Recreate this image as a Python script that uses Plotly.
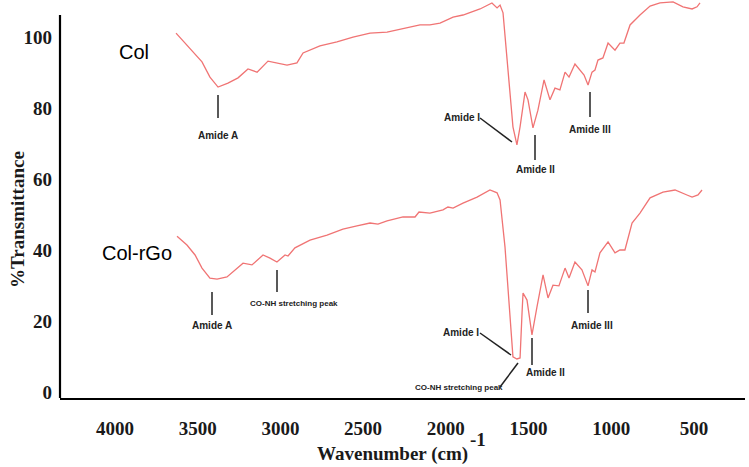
import plotly.graph_objects as go

# ---- data ----
col_wavenumber = [3631, 3547, 3474, 3426, 3377, 3317, 3256, 3196, 3141, 3075, 3021, 2960, 2900, 2863,
                  2761, 2658, 2561, 2458, 2355, 2259, 2156, 2096, 2035, 1956, 1896, 1793, 1721, 1690,
                  1672, 1654, 1624, 1594, 1570, 1551, 1521, 1503, 1473, 1443, 1406, 1370, 1340, 1310,
                  1279, 1255, 1219, 1189, 1164, 1140, 1116, 1098, 1080, 1050, 1019, 977, 947, 923,
                  886, 826, 765, 705, 626, 566, 511, 481, 463]
col_transmittance = [101.1, 96.9, 93.0, 88.7, 85.9, 87.0, 88.5, 91.0, 90.1, 93.2, 92.7, 92.1, 92.7, 95.5,
                     97.5, 98.6, 100.0, 101.1, 101.4, 102.3, 103.4, 103.4, 103.9, 105.6, 106.2, 107.9, 109.6, 108.2,
                     109.0, 106.8, 91.6, 74.7, 69.6, 74.7, 84.5, 82.3, 74.4, 79.4, 87.9, 82.3, 85.6, 85.1,
                     90.1, 88.7, 92.4, 90.7, 89.3, 86.5, 90.1, 90.7, 93.5, 94.1, 98.3, 96.3, 98.3, 98.3,
                     103.4, 106.2, 108.7, 109.6, 109.9, 108.5, 107.9, 108.5, 109.6]

rgo_wavenumber = [3625, 3565, 3516, 3474, 3426, 3383, 3323, 3274, 3226, 3172, 3105, 3063, 3021, 2972,
                  2954, 2912, 2821, 2718, 2622, 2537, 2458, 2410, 2355, 2259, 2186, 2162, 2096, 2017,
                  1987, 1956, 1896, 1811, 1733, 1690, 1672, 1642, 1612, 1594, 1570, 1551, 1539, 1533,
                  1509, 1479, 1449, 1412, 1382, 1352, 1316, 1279, 1255, 1219, 1177, 1140, 1116, 1098,
                  1068, 1019, 977, 947, 917, 874, 826, 765, 687, 614, 542, 511, 475, 451]
rgo_transmittance = [43.9, 41.4, 38.6, 34.9, 32.1, 31.8, 32.4, 34.4, 36.3, 35.8, 38.6, 37.7, 36.6, 38.6,
                     38.3, 40.6, 42.8, 44.2, 45.9, 46.8, 47.6, 47.3, 48.2, 49.3, 49.3, 50.7, 50.4, 51.3,
                     52.1, 51.8, 53.2, 54.9, 56.9, 56.1, 54.1, 40.8, 22.3, 9.9, 9.3, 9.6, 22.3, 27.9,
                     25.9, 16.1, 23.9, 33.0, 26.5, 30.1, 29.9, 34.9, 32.1, 36.6, 34.4, 29.9, 34.4, 33.8,
                     39.2, 42.3, 39.2, 40.0, 40.0, 47.6, 50.4, 54.7, 56.3, 56.9, 55.5, 54.9, 55.5, 56.9]

x_ticks = [4000, 3500, 3000, 2500, 2000, 1500, 1000, 500]
y_ticks = [0, 20, 40, 60, 80, 100]

# ---- layout helpers (pixel -> paper) ----
L, R, T, B = 60, 4, 0, 69
W, H = 749, 467
PW, PH = W - L - R, H - T - B


def px(x):
    return (x - L) / PW


def py(y):
    return (H - B - y) / PH


LINE_COLOR = "#f07474"
INK = "#222222"

fig = go.Figure()
fig.add_trace(go.Scatter(x=col_wavenumber, y=col_transmittance, mode="lines",
                         line=dict(color=LINE_COLOR, width=1.3), name="Col", showlegend=False))
fig.add_trace(go.Scatter(x=rgo_wavenumber, y=rgo_transmittance, mode="lines",
                         line=dict(color=LINE_COLOR, width=1.3), name="Col-rGo", showlegend=False))

shapes = []
# y-axis line (shorter than plot area)
shapes.append(dict(type="line", xref="paper", yref="paper", x0=0, x1=0, y0=0, y1=py(15),
                   line=dict(color="black", width=2.2)))

# peak marker ticks (x, y_top, y_bottom) in pixels
marks = [(218, 95, 118), (535, 135, 160), (590, 92, 117),
         (212, 292, 315), (277, 270, 292), (532, 338, 365), (588, 290, 313)]
for x, y0, y1 in marks:
    shapes.append(dict(type="line", xref="paper", yref="paper", x0=px(x), x1=px(x), y0=py(y0), y1=py(y1),
                       line=dict(color=INK, width=1.5)))
# leader lines
leaders = [(480, 118, 512, 142), (480, 333, 511, 355), (500, 387, 518, 363)]
for x0, y0, x1, y1 in leaders:
    shapes.append(dict(type="line", xref="paper", yref="paper", x0=px(x0), x1=px(x1), y0=py(y0), y1=py(y1),
                       line=dict(color=INK, width=1.5)))

annotations = []
small_font = dict(family="Liberation Sans Narrow, Arial Narrow, Liberation Sans", size=10, color=INK, weight="bold")
labels = [("Amide A", 218, 135, 10), ("Amide I", 462, 118, 10), ("Amide II", 535, 169, 10),
          ("Amide III", 590, 129, 10), ("Amide A", 212, 325, 10), ("CO-NH stretching peak", 294, 303, 8),
          ("Amide I", 461, 332, 10), ("Amide II", 545, 372, 10), ("Amide III", 592, 325, 10),
          ("CO-NH stretching peak", 459, 387, 8)]
for text, x, y, s in labels:
    f = dict(small_font)
    f["size"] = s
    annotations.append(dict(text=text, xref="paper", yref="paper", x=px(x), y=py(y),
                            xanchor="center", yanchor="middle", showarrow=False, font=f))

big_font = dict(family="Liberation Sans Narrow, Arial Narrow, Liberation Sans", size=20, color="black")
annotations.append(dict(text="Col", xref="paper", yref="paper", x=px(134), y=py(52),
                        xanchor="center", yanchor="middle", showarrow=False, font=big_font))
annotations.append(dict(text="Col-rGo", xref="paper", yref="paper", x=px(137), y=py(253),
                        xanchor="center", yanchor="middle", showarrow=False, font=big_font))

serif = dict(family="Liberation Serif, Times New Roman, serif", size=19, color="#1a1a1a", weight="bold")
annotations.append(dict(text="%Transmittance", xref="paper", yref="paper", x=px(18), y=py(220),
                        xanchor="center", yanchor="middle", textangle=-90, showarrow=False, font=serif))
annotations.append(dict(text="Wavenumber (cm)", xref="paper", yref="paper", x=px(392), y=py(454),
                        xanchor="center", yanchor="middle", showarrow=False, font=serif))
annotations.append(dict(text="-1", xref="paper", yref="paper", x=px(478), y=py(440),
                        xanchor="center", yanchor="middle", showarrow=False, font=serif))

# axis ranges derived from the pixel calibration of the reference
x_left = 4000 + (115 - L) * 6.046
x_right = 4000 - (W - R - 115) * 6.046
y_bottom = (392 - (H - B)) * 0.2817
y_top = (392 - T) * 0.2817

fig.update_layout(
    width=W, height=H,
    margin=dict(l=L, r=R, t=T, b=B),
    paper_bgcolor="white", plot_bgcolor="white",
    shapes=shapes, annotations=annotations,
    xaxis=dict(range=[x_left, x_right], tickvals=x_ticks, ticktext=[str(v) for v in x_ticks],
               showgrid=False, zeroline=False, showline=True, linecolor="black", linewidth=2.2,
               ticks="", ticklabelstandoff=12, tickfont=serif),
    yaxis=dict(range=[y_bottom, y_top], tickvals=y_ticks, ticktext=[str(v) for v in y_ticks],
               showgrid=False, zeroline=False, showline=False,
               ticks="", ticklabelstandoff=7, tickfont=serif),
)

fig.write_html("out.html", config={"displayModeBar": False},
               post_script="document.body.style.margin='0px';")
